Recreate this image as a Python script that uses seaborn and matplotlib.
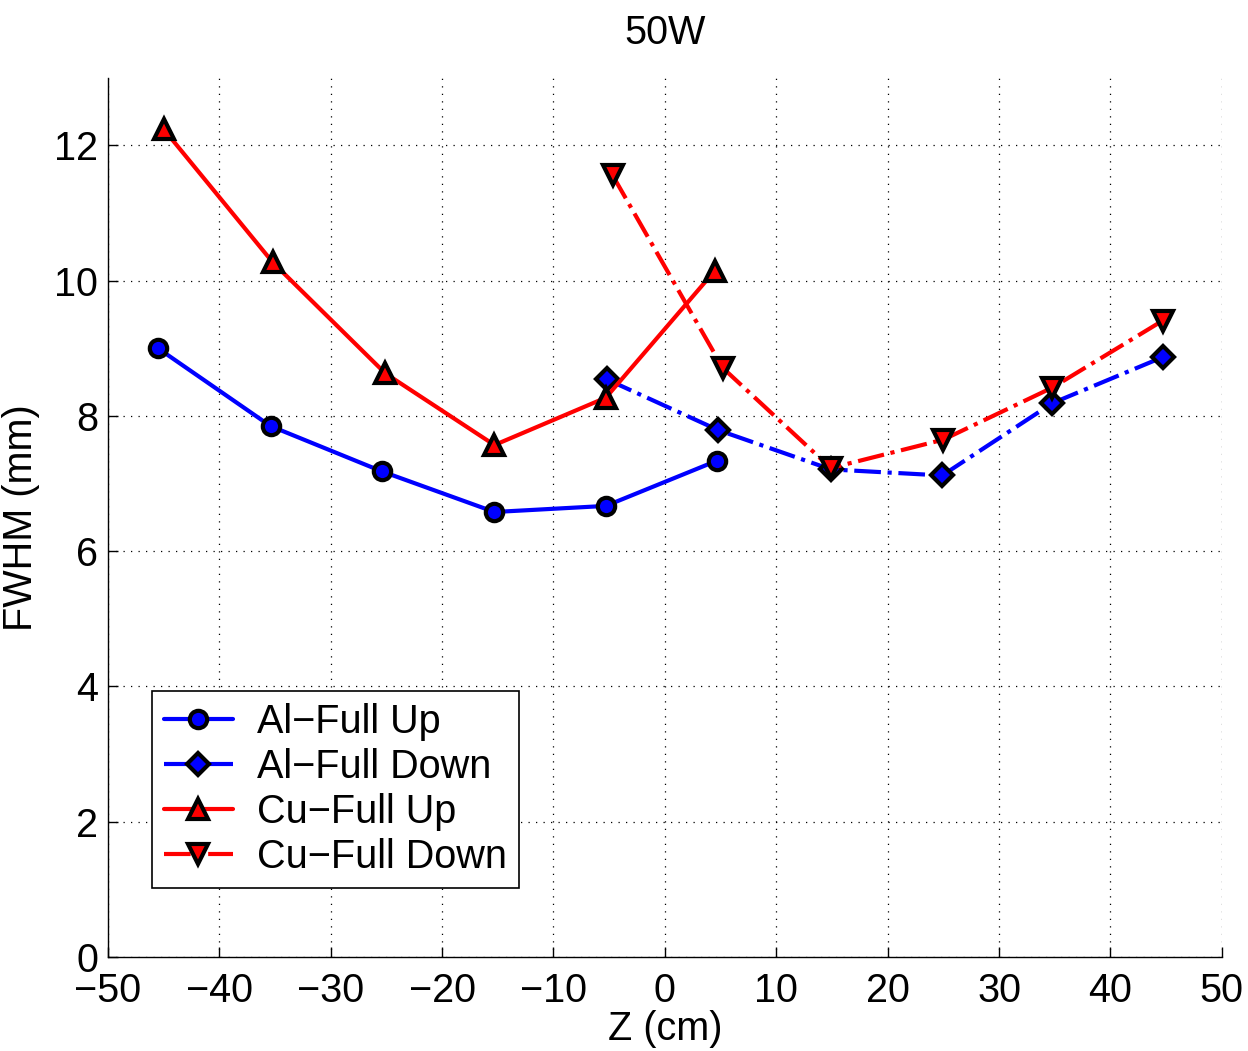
import numpy as np
import pandas as pd
import matplotlib
matplotlib.use("Agg")
import matplotlib.pyplot as plt
import seaborn as sns

# Data
al_up_z = [-45.5, -35.4, -25.4, -15.3, -5.3, 4.7]
al_up_fwhm = [9.00, 7.85, 7.18, 6.58, 6.67, 7.34]
al_down_z = [-5.2, 4.8, 14.9, 24.9, 34.8, 44.7]
al_down_fwhm = [8.54, 7.79, 7.21, 7.12, 8.19, 8.87]
cu_up_z = [-45.0, -35.2, -25.1, -15.3, -5.3, 4.5]
cu_up_fwhm = [12.24, 10.27, 8.63, 7.57, 8.27, 10.15]
cu_down_z = [-4.7, 5.2, 14.9, 25.0, 34.8, 44.7]
cu_down_fwhm = [11.56, 8.71, 7.23, 7.65, 8.42, 9.41]

labels = ["Al\u2212Full Up", "Al\u2212Full Down", "Cu\u2212Full Up", "Cu\u2212Full Down"]
xticks = list(range(-50, 51, 10))
yticks = list(range(0, 13, 2))

sns.set_style("white")
plt.rcParams['font.family'] = ['Liberation Sans', 'DejaVu Sans']
plt.rcParams['axes.unicode_minus'] = True
plt.rcParams['text.color'] = 'black'
plt.rcParams['axes.labelcolor'] = 'black'
plt.rcParams['xtick.color'] = 'black'
plt.rcParams['ytick.color'] = 'black'

FS = 28.5

fig = plt.figure(figsize=(12.48, 10.51), dpi=100)
ax = fig.add_axes([0.0865, 0.0894, 0.8925, 0.8366])

series = [
    (al_up_z, al_up_fwhm, labels[0], "#0000ff", "-", "o", 12.5),
    (al_down_z, al_down_fwhm, labels[1], "#0000ff", "-.", "D", 11.5),
    (cu_up_z, cu_up_fwhm, labels[2], "#ff0000", "-", "^", 14),
    (cu_down_z, cu_down_fwhm, labels[3], "#ff0000", "-.", "v", 14),
]
for z, f, lab, col, ls, mk, ms in series:
    df = pd.DataFrame({"z": z, "fwhm": f})
    sns.lineplot(data=df, x="z", y="fwhm", ax=ax, color=col, linestyle=ls,
                 linewidth=3.0, marker=mk, markersize=ms, markerfacecolor=col,
                 markeredgecolor="black", markeredgewidth=3.0, label=lab,
                 sort=False)

ax.set_xlim(-50, 50)
ax.set_ylim(0, 13)
ax.set_xticks(xticks)
ax.set_yticks(yticks)
ax.set_xticklabels([str(t).replace('-', '\u2212') for t in xticks])
ax.set_yticklabels([str(t) for t in yticks])
ax.tick_params(direction='in', length=7, width=1, labelsize=FS, colors='black',
               bottom=True, left=True)
ax.tick_params(axis='x', pad=11)
ax.tick_params(axis='y', pad=7)
ax.grid(True, linestyle=(0, (1, 5)), color='black', linewidth=0.9)
for s in ['top', 'right']:
    ax.spines[s].set_visible(False)
for s in ['left', 'bottom']:
    ax.spines[s].set_color('black')
    ax.spines[s].set_linewidth(1)

ax.set_xlabel("Z (cm)", fontsize=FS, labelpad=0, color='black')
ax.set_ylabel("FWHM (mm)", fontsize=FS, labelpad=10, color='black')
ax.set_title("50W", fontsize=FS, pad=24, color='black')

leg = ax.legend(loc='upper left', bbox_to_anchor=(0.0395, 0.3026), borderaxespad=0,
                fontsize=FS, frameon=True, fancybox=False, edgecolor='black',
                handlelength=1.75, handletextpad=0.6, labelspacing=0.18,
                borderpad=0.3)
leg.get_frame().set_linewidth(1.2)
leg.get_frame().set_alpha(1)
for t in leg.get_texts():
    t.set_color('black')

fig.savefig("out.png", dpi=100)
